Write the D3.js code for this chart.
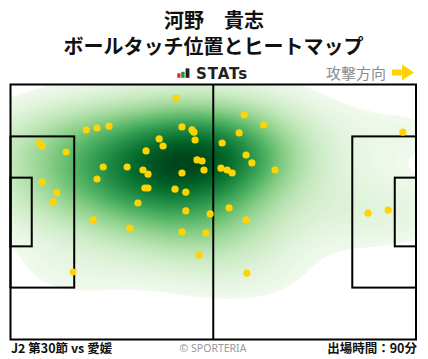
<!DOCTYPE html>
<html><head><meta charset="utf-8">
<script src="https://cdn.jsdelivr.net/npm/d3@7"></script>
<style>body{margin:0;background:#fff}svg{display:block}</style>
</head><body><svg id="c" width="428" height="359"></svg>
<script>
// ---- data (pitch metres: x 0..105 toward attacking direction, y 0..68 from top) ----
const touchX = [42.9,19.6,22.4,25.5,44.4,47.0,47.5,7.4,8.2,14.4,38.5,39.5,47.8,35.1,48.3,49.6,50.1,24.0,30.2,34.3,35.6,44.4,22.4,8.2,12.0,11.0,34.8,35.6,42.6,45.4,33.0,45.4,51.7,21.4,30.9,44.4,50.6,48.8,16.2,60.5,65.6,59.2,54.8,61.0,62.5,54.5,56.1,57.4,68.5,56.6,61.0,61.2,101.6,92.6,97.8];
const touchY = [3.6,12.1,11.6,11.1,11.3,12.1,12.7,15.6,16.4,18.0,14.5,16.4,14.8,17.7,20.1,20.4,22.8,22.0,22.0,22.8,23.9,23.6,25.2,26.0,28.9,31.3,27.6,27.6,27.9,28.7,31.6,33.7,34.5,36.1,38.3,39.3,39.6,45.5,50.0,8.1,10.8,12.9,15.6,18.8,20.9,22.3,22.8,23.6,22.8,32.9,36.1,50.3,12.7,34.3,33.5];
const titleLines = ["河野　貴志", "ボールタッチ位置とヒートマップ"];
const logoText = "STATs";
const directionLabel = "攻撃方向";
const footerLeft = "J2 第30節 vs 愛媛";
const footerCenter = "© SPORTERIA";
const footerRight = "出場時間：90分";
const pitchLength = 105, pitchWidth = 68;

const svg = d3.select("#c");
const x = d3.scaleLinear().domain([0, pitchLength]).range([10.5, 416]);
const y = d3.scaleLinear().domain([0, pitchWidth]).range([84.5, 339.5]);

// ---- KDE (Scott's rule, full covariance) ----
const bwAdjust = 1.3;
const n = touchX.length;
const mx = d3.mean(touchX), my = d3.mean(touchY);
let sxx = 0, syy = 0, sxy = 0;
for (let i = 0; i < n; i++) { const dx = touchX[i]-mx, dy = touchY[i]-my; sxx += dx*dx; syy += dy*dy; sxy += dx*dy; }
sxx /= (n-1); syy /= (n-1); sxy /= (n-1);
const f = Math.pow(n, -1/6) * bwAdjust;
const cxx = sxx*f*f, cyy = syy*f*f, cxy = sxy*f*f;
const det = cxx*cyy - cxy*cxy;
const ixx = cyy/det, iyy = cxx/det, ixy = -cxy/det;
const normC = 1/(2*Math.PI*Math.sqrt(det))/n;
const bwx = Math.sqrt(cxx), bwy = Math.sqrt(cyy);
const G = 200;
const gx0 = d3.min(touchX) - 3*bwx, gx1 = d3.max(touchX) + 3*bwx;
const gy0 = d3.min(touchY) - 3*bwy, gy1 = d3.max(touchY) + 3*bwy;
const ddx = (gx1-gx0)/(G-1), ddy = (gy1-gy0)/(G-1);
const values = new Float64Array(G*G);
for (let j = 0; j < G; j++) {
  const py = gy0 + j*ddy;
  for (let i = 0; i < G; i++) {
    const px = gx0 + i*ddx;
    let s = 0;
    for (let k = 0; k < n; k++) {
      const dx = px-touchX[k], dy = py-touchY[k];
      s += Math.exp(-0.5*(ixx*dx*dx + 2*ixy*dx*dy + iyy*dy*dy));
    }
    values[i + j*G] = s*normC;
  }
}
// iso-proportion levels, coloured by level index
const L = 100, thresh = 0.05;
const sorted = Array.from(values).sort((a,b)=>b-a);
const total = d3.sum(sorted);
const cum = []; let acc = 0;
for (const v of sorted) { acc += v; cum.push(acc/total); }
const levels = d3.range(L).map(k => {
  const p = thresh + (1-thresh)*k/(L-1);
  const idx = Math.min(d3.bisectLeft(cum, 1-p), sorted.length-1);
  return sorted[idx];
});
const contours = d3.contours().size([G, G]).thresholds(levels.slice(0, L-1))(values);
const proj = d3.geoTransform({ point(cx, cy) {
  this.stream.point(x(gx0 + (cx-0.5)*ddx), y(gy0 + (cy-0.5)*ddy));
}});
const path = d3.geoPath(proj);

svg.append("clipPath").attr("id","pc").append("rect")
  .attr("x", x(0)).attr("y", y(0)).attr("width", x(pitchLength)-x(0)).attr("height", y(pitchWidth)-y(0));
svg.append("g").attr("clip-path","url(#pc)")
  .selectAll("path").data(contours).join("path")
  .attr("d", path)
  .attr("fill", (d,k) => d3.interpolateGreens(0.05 + 0.95*(k+0.5)/(L-1)))
  .attr("stroke", "none");

// ---- pitch lines ----
const pg = svg.append("g").attr("fill","none").attr("stroke","#000").attr("stroke-width",2);
pg.append("rect").attr("x", x(0)).attr("y", y(0)).attr("width", x(pitchLength)-x(0)).attr("height", y(pitchWidth)-y(0));
pg.append("line").attr("x1", x(pitchLength/2)).attr("x2", x(pitchLength/2)).attr("y1", y(0)).attr("y2", y(pitchWidth));
const boxes = [[0,16.5,13.84,54.16],[0,5.5,24.84,43.16],[pitchLength-16.5,pitchLength,13.84,54.16],[pitchLength-5.5,pitchLength,24.84,43.16]];
boxes.forEach(b => pg.append("rect").attr("x", x(b[0])).attr("y", y(b[2])).attr("width", x(b[1])-x(b[0])).attr("height", y(b[3])-y(b[2])));

// ---- touches ----
svg.append("g").selectAll("circle").data(touchX).join("circle")
  .attr("cx", (d) => x(d)).attr("cy", (d,i) => y(touchY[i])).attr("r", 3.6).attr("fill", "#ffd400");

// ---- texts ----
const cjk = "'Noto Sans CJK JP', 'Noto Sans', sans-serif";
svg.append("text").attr("x", 214).attr("y", 28).attr("text-anchor","middle").attr("font-family", cjk)
  .attr("font-weight","bold").attr("font-size", 20).attr("fill","#111").text(titleLines[0]);
svg.append("text").attr("x", 213.5).attr("y", 53.5).attr("text-anchor","middle").attr("font-family", cjk)
  .attr("font-weight","bold").attr("font-size", 20).attr("fill","#111").text(titleLines[1]);
// logo
const lg = svg.append("g");
lg.append("rect").attr("x",177.3).attr("y",73.3).attr("width",3.2).attr("height",4.5).attr("fill","#e8262c");
lg.append("rect").attr("x",181.2).attr("y",71.8).attr("width",3.4).attr("height",6).attr("fill","#1a9a3a");
lg.append("rect").attr("x",185.6).attr("y",68.4).attr("width",3.8).attr("height",9.4).attr("fill","#222");
lg.append("text").attr("x",196).attr("y",79).attr("font-family","'DejaVu Sans', sans-serif").attr("font-weight","bold")
  .attr("font-size",15).attr("letter-spacing",0.9).attr("fill","#222").text(logoText);
svg.append("text").attr("x",326).attr("y",78.5).attr("font-family", cjk).attr("font-size",15).attr("fill","#8c8c8c").text(directionLabel);
svg.append("path").attr("d","M392,69.5H402V64.5L414,72.5L402,80.5V75.5H392Z").attr("fill","#ffd400");
svg.append("text").attr("x",11).attr("y",353).attr("font-family", cjk).attr("font-weight","bold").attr("font-size",12.5).attr("fill","#111").text(footerLeft);
svg.append("text").attr("x",213).attr("y",352).attr("text-anchor","middle").attr("font-family","'Noto Sans', sans-serif").attr("font-size",10.5).attr("fill","#999").text(footerCenter);
svg.append("text").attr("x",417).attr("y",353).attr("text-anchor","end").attr("font-family", cjk).attr("font-weight","bold").attr("font-size",12.5).attr("fill","#111").text(footerRight);
</script></body></html>
